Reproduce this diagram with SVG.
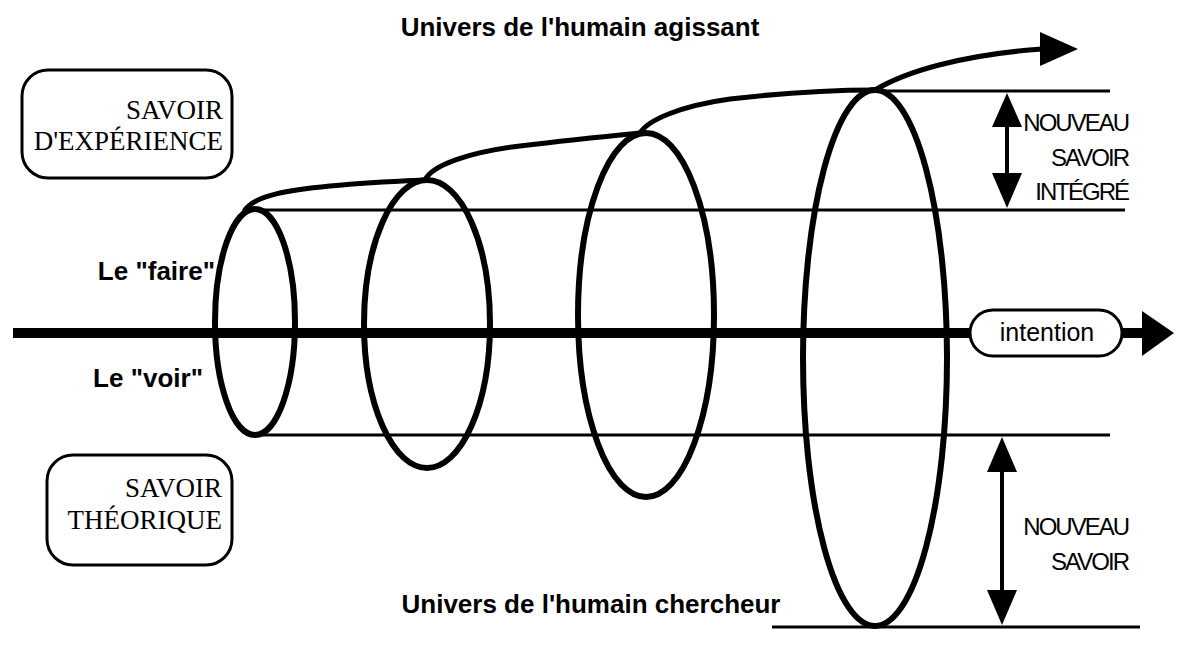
<svg xmlns="http://www.w3.org/2000/svg" width="1186" height="654" viewBox="0 0 1186 654">
<style>
.ell{fill:none;stroke:#000;stroke-width:6}
.cur{fill:none;stroke:#000;stroke-width:5;stroke-linecap:round}
.thin{stroke:#000;stroke-width:3}
.serif{font-family:"Liberation Serif","Times New Roman",serif;font-size:27px;fill:#000}
.bold{font-family:"Liberation Sans",Arial,sans-serif;font-weight:bold;font-size:26px;fill:#000}
.cond{font-family:"Liberation Sans",Arial,sans-serif;font-size:24px;letter-spacing:-2px;fill:#000}
.box{fill:#fff;stroke:#000;stroke-width:3}
</style>
<rect width="1186" height="654" fill="#fff"/>
<g id="titles">
<text class="bold" x="580" y="36" text-anchor="middle">Univers de l'humain agissant</text>
<text class="bold" x="591" y="613" text-anchor="middle">Univers de l'humain chercheur</text>
</g>
<g id="connectors">
<line class="thin" x1="250" y1="210" x2="1125" y2="210"/>
<line class="thin" x1="252" y1="435" x2="1110" y2="435"/>
<line class="thin" x1="873" y1="91" x2="1110" y2="91"/>
<line class="thin" x1="772" y1="627" x2="1140" y2="627"/>
<line x1="13" y1="333" x2="1145" y2="333" stroke="#000" stroke-width="10"/>
<polygon points="1142,311 1174,333 1142,356" fill="#000"/>
<path class="cur" d="M245,210 C255,195 290,190 330,186 C370,182 400,181 425,180"/>
<path class="cur" d="M425,180 C432,165 470,152 520,146 C570,140 610,136 640,133"/>
<path class="cur" d="M640,133 C648,120 680,106 730,99 C790,92 840,90 875,90"/>
<path class="cur" d="M875,90 C905,72 960,55 1042,49"/>
<polygon points="1040,32 1078,49 1040,66" fill="#000"/>
<g id="arrow-integre">
<line x1="1007" y1="120" x2="1007" y2="180" stroke="#000" stroke-width="4"/>
<polygon points="1007,93 1022,127 992,127" fill="#000"/>
<polygon points="992,173 1022,173 1007,208" fill="#000"/>
</g>
<g id="arrow-nouveau">
<line x1="1002" y1="465" x2="1002" y2="600" stroke="#000" stroke-width="4"/>
<polygon points="1002,437 1017,472 987,472" fill="#000"/>
<polygon points="987,590 1017,590 1002,625" fill="#000"/>
</g>
</g>
<g id="ellipse1"><ellipse class="ell" cx="255" cy="322" rx="40" ry="113"/></g>
<g id="ellipse2"><ellipse class="ell" cx="427" cy="324" rx="63" ry="144"/></g>
<g id="ellipse3"><ellipse class="ell" cx="646" cy="315" rx="68" ry="182"/></g>
<g id="ellipse4"><ellipse class="ell" cx="875" cy="358" rx="72" ry="268"/></g>
<g id="intention">
<rect class="box" x="970" y="310" width="152" height="46" rx="23"/>
<text x="1047" y="341" text-anchor="middle" font-family="'Liberation Sans',Arial,sans-serif" font-size="25">intention</text>
</g>
<g id="savoir-experience">
<rect class="box" x="22" y="70" width="210" height="108" rx="26"/>
<text class="serif" x="223" y="119" text-anchor="end">SAVOIR</text>
<text class="serif" x="223" y="150" text-anchor="end">D'EXPÉRIENCE</text>
</g>
<g id="savoir-theorique">
<rect class="box" x="47" y="455" width="185" height="110" rx="26"/>
<text class="serif" x="222" y="497" text-anchor="end">SAVOIR</text>
<text class="serif" x="222" y="529" text-anchor="end">THÉORIQUE</text>
</g>
<g id="labels">
<text class="bold" x="215" y="280" text-anchor="end">Le "faire"</text>
<text class="bold" x="203" y="387" text-anchor="end">Le "voir"</text>
<text class="cond" x="1128" y="131" text-anchor="end">NOUVEAU</text>
<text class="cond" x="1128" y="166" text-anchor="end">SAVOIR</text>
<text class="cond" x="1128" y="200" text-anchor="end">INTÉGRÉ</text>
<text class="cond" x="1128" y="535" text-anchor="end">NOUVEAU</text>
<text class="cond" x="1128" y="570" text-anchor="end">SAVOIR</text>
</g>
</svg>
